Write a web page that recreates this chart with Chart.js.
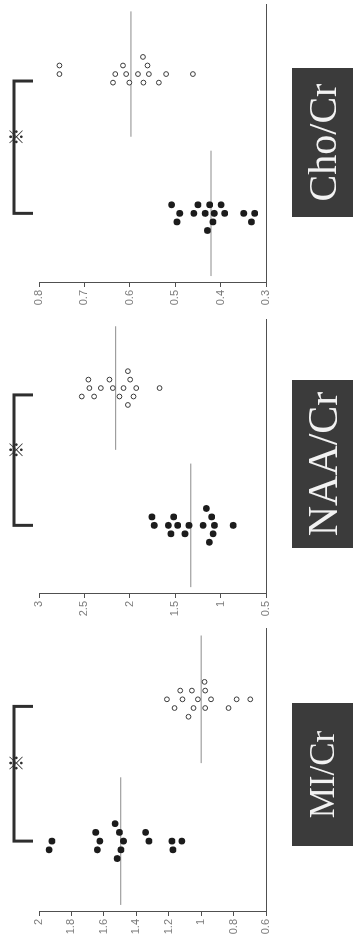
<!DOCTYPE html>
<html><head><meta charset="utf-8">
<script src="https://cdn.jsdelivr.net/npm/chart.js@4.4.1/dist/chart.umd.min.js"></script>
<style>
html,body{margin:0;padding:0;background:#fff;overflow:hidden;width:353px;height:942px;}
#stage{position:absolute;left:0;top:0;width:942px;height:353px;transform-origin:0 0;transform:translate(0,942px) rotate(-90deg);background:#fff;overflow:hidden;}
.panel{position:absolute;top:0;}
.title{position:absolute;top:292px;height:61px;background:#3b3b3b;color:#f2f2f2;font-family:"Liberation Serif","Times New Roman",serif;display:flex;align-items:center;justify-content:center;line-height:1;white-space:nowrap;}
</style></head><body>
<div id="stage"></div>
<script>
// ---- data ----
const panelTitles = ['MI/Cr', 'NAA/Cr', 'Cho/Cr'];
const groups = ['Patients', 'Controls'];
const sigMark = '※';

const miTickLabels  = ['0.6','0.8','1','1.2','1.4','1.6','1.8','2'];
const naaTickLabels = ['0.5','1','1.5','2','2.5','3'];
const choTickLabels = ['0.3','0.4','0.5','0.6','0.7','0.8'];

const miPatients      = [1.531,1.650,1.504,1.343,1.920,1.625,1.479,1.322,1.180,1.119,1.938,1.640,1.495,1.174,1.518];
const miPatientSlots  = [2,1,1,1,0,0,0,0,0,0,-1,-1,-1,-1,-2];
const miControls      = [0.979,1.129,1.057,0.975,1.211,1.115,1.020,0.939,0.781,0.697,1.164,1.047,0.975,0.831,1.078];
const miControlSlots  = [2,1,1,1,0,0,0,0,0,0,-1,-1,-1,-1,-2];

const naaPatients     = [1.157,1.756,1.517,1.098,1.731,1.576,1.473,1.348,1.193,1.068,0.862,1.547,1.392,1.083,1.124];
const naaPatientSlots = [2,1,1,1,0,0,0,0,0,0,0,-1,-1,-1,-2];
const naaControls     = [2.021,2.456,2.224,1.996,2.445,2.319,2.187,2.069,1.929,1.672,2.529,2.393,2.114,1.959,2.021];
const naaControlSlots = [2,1,1,1,0,0,0,0,0,0,-1,-1,-1,-1,-2];

const choPatients     = [0.508,0.450,0.424,0.399,0.490,0.459,0.434,0.414,0.391,0.349,0.325,0.496,0.417,0.332,0.429];
const choPatientSlots = [1,1,1,1,0,0,0,0,0,0,0,-1,-1,-1,-2];
const choControls     = [0.571,0.755,0.615,0.561,0.755,0.632,0.608,0.582,0.558,0.520,0.461,0.637,0.601,0.570,0.536];
const choControlSlots = [2,1,1,1,0,0,0,0,0,0,0,-1,-1,-1,-1];

// ---- layout (upright coordinates; the stage is rotated -90deg) ----
const layout = [
  {axisU:30,  plotW:285, box:[96,239],  font:35},
  {axisU:348, plotW:276, box:[394,562], font:42},
  {axisU:659, plotW:280, box:[725,874], font:40}
];
const panels = [
  {ticks: miTickLabels,  pat: miPatients,  patSlot: miPatientSlots,  con: miControls,  conSlot: miControlSlots},
  {ticks: naaTickLabels, pat: naaPatients, patSlot: naaPatientSlots, con: naaControls, conSlot: naaControlSlots},
  {ticks: choTickLabels, pat: choPatients, patSlot: choPatientSlots, con: choControls, conSlot: choControlSlots}
];
const SLOT = 0.123, Y_AXIS_W = 30, CANVAS_H = 353, TOP = 39, BOTTOM = 266;
const mean = a => a.reduce((s,v)=>s+v,0)/a.length;

const bracketPlugin = {
  id: 'bracket',
  afterDatasetsDraw(chart) {
    const ctx = chart.ctx, xs = chart.scales.x;
    const x1 = xs.getPixelForValue(1.0), x2 = xs.getPixelForValue(2.9);
    ctx.save();
    ctx.strokeStyle = '#2e2e2e'; ctx.lineWidth = 3; ctx.lineJoin = 'miter';
    ctx.beginPath(); ctx.moveTo(x1, 33); ctx.lineTo(x1, 14); ctx.lineTo(x2, 14); ctx.lineTo(x2, 33); ctx.stroke();
    ctx.fillStyle = '#2e2e2e'; ctx.font = 'bold 18px "Noto Sans CJK JP"';
    ctx.textAlign = 'center'; ctx.textBaseline = 'middle';
    ctx.fillText(sigMark, xs.getPixelForValue(2.1), 16);
    ctx.restore();
  }
};

const stage = document.getElementById('stage');
panels.forEach((p, i) => {
  const L = layout[i];
  const div = document.createElement('div');
  div.className = 'panel';
  div.style.left = (L.axisU - Y_AXIS_W) + 'px';
  const cv = document.createElement('canvas');
  const W = Y_AXIS_W + L.plotW + 2;
  cv.width = W; cv.height = CANVAS_H;
  cv.style.width = W + 'px'; cv.style.height = CANVAS_H + 'px';
  div.appendChild(cv); stage.appendChild(div);

  const tickVals = p.ticks.map(Number);
  const mP = mean(p.pat), mC = mean(p.con);
  new Chart(cv, {
    type: 'scatter',
    data: {
      datasets: [
        {label: groups[0], data: p.pat.map((v,k)=>({x: 1 + p.patSlot[k]*SLOT, y: v})),
         pointRadius: 3.4, pointHoverRadius: 3.4, backgroundColor: '#1c1c1c', borderWidth: 0},
        {label: groups[1], data: p.con.map((v,k)=>({x: 3 + p.conSlot[k]*SLOT, y: v})),
         pointRadius: 2.4, pointHoverRadius: 2.4, backgroundColor: '#ffffff', borderColor: '#3a3a3a', borderWidth: 1},
        {label: 'mean1', data: [{x:0.1, y:mP},{x:1.9, y:mP}], showLine: true, pointRadius: 0,
         borderColor: '#8c8c8c', borderWidth: 1},
        {label: 'mean2', data: [{x:2.1, y:mC},{x:3.9, y:mC}], showLine: true, pointRadius: 0,
         borderColor: '#8c8c8c', borderWidth: 1}
      ]
    },
    options: {
      responsive: false, animation: false, devicePixelRatio: 1,
      layout: {padding: {top: TOP, bottom: CANVAS_H - BOTTOM, left: 0, right: 2}},
      plugins: {legend: {display: false}, tooltip: {enabled: false}, title: {display: false}},
      scales: {
        x: {type: 'linear', min: 0, max: 4,
            ticks: {display: false}, grid: {display: false},
            border: {display: true, color: '#505050', width: 1},
            afterFit: s => { s.height = 0; }},
        y: {type: 'linear', min: tickVals[0], max: tickVals[tickVals.length-1],
            afterBuildTicks: s => { s.ticks = tickVals.map(v => ({value: v})); },
            ticks: {callback: (v, idx) => p.ticks[idx], color: '#7a7a7a', padding: 3,
                    font: {family: 'Liberation Sans', size: 11}},
            grid: {drawOnChartArea: false, drawTicks: true, tickLength: 4, color: '#505050'},
            border: {display: true, color: '#505050', width: 1},
            afterFit: s => { s.width = Y_AXIS_W; }}
      }
    },
    plugins: [bracketPlugin]
  });

  const t = document.createElement('div');
  t.className = 'title';
  t.style.left = L.box[0] + 'px';
  t.style.width = (L.box[1] - L.box[0]) + 'px';
  t.style.fontSize = L.font + 'px';
  t.textContent = panelTitles[i];
  stage.appendChild(t);
});
</script>
</body></html>
